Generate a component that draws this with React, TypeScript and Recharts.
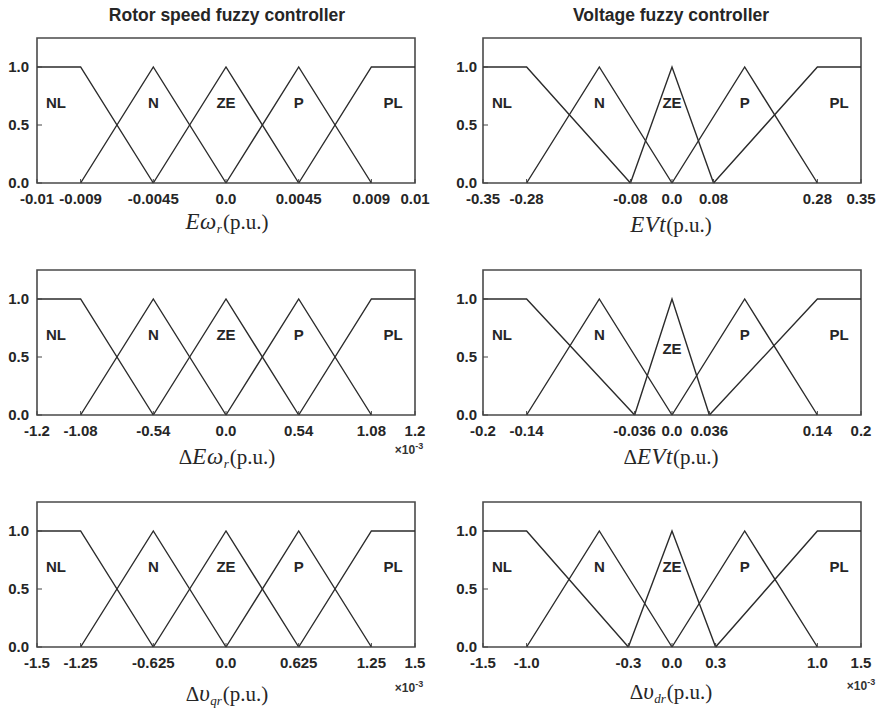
import React from 'react'
import { LineChart, Line, XAxis, YAxis, ReferenceArea, ReferenceDot } from 'recharts'

// membership grades at the breakpoints of each set
const setNames = ['NL', 'N', 'ZE', 'P', 'PL']
const gradeNL = [1, 1, 0]
const gradeTri = [0, 1, 0]
const gradePL = [0, 1, 1]
const yTicks = [0, 0.5, 1]
const yTickLabels = ['0.0', '0.5', '1.0']

// E omega_r (p.u.)
const ewTicks = [-0.01, -0.009, -0.0045, 0, 0.0045, 0.009, 0.01]
const ewTickLabels = ['-0.01', '-0.009', '-0.0045', '0.0', '0.0045', '0.009', '0.01']
const ewNL = [-0.01, -0.009, -0.0045]
const ewN = [-0.009, -0.0045, 0]
const ewZE = [-0.0045, 0, 0.0045]
const ewP = [0, 0.0045, 0.009]
const ewPL = [0.0045, 0.009, 0.01]

// delta E omega_r (p.u.) x10^-3
const dewTicks = [-1.2, -1.08, -0.54, 0, 0.54, 1.08, 1.2]
const dewTickLabels = ['-1.2', '-1.08', '-0.54', '0.0', '0.54', '1.08', '1.2']
const dewNL = [-1.2, -1.08, -0.54]
const dewN = [-1.08, -0.54, 0]
const dewZE = [-0.54, 0, 0.54]
const dewP = [0, 0.54, 1.08]
const dewPL = [0.54, 1.08, 1.2]

// delta v_qr (p.u.) x10^-3
const dvqTicks = [-1.5, -1.25, -0.625, 0, 0.625, 1.25, 1.5]
const dvqTickLabels = ['-1.5', '-1.25', '-0.625', '0.0', '0.625', '1.25', '1.5']
const dvqNL = [-1.5, -1.25, -0.625]
const dvqN = [-1.25, -0.625, 0]
const dvqZE = [-0.625, 0, 0.625]
const dvqP = [0, 0.625, 1.25]
const dvqPL = [0.625, 1.25, 1.5]

// EVt (p.u.)
const evTicks = [-0.35, -0.28, -0.08, 0, 0.08, 0.28, 0.35]
const evTickLabels = ['-0.35', '-0.28', '-0.08', '0.0', '0.08', '0.28', '0.35']
const evNL = [-0.35, -0.28, -0.08]
const evN = [-0.28, -0.14, 0]
const evZE = [-0.08, 0, 0.08]
const evP = [0, 0.14, 0.28]
const evPL = [0.08, 0.28, 0.35]

// delta EVt (p.u.)
const devTicks = [-0.2, -0.14, -0.036, 0, 0.036, 0.14, 0.2]
const devTickLabels = ['-0.2', '-0.14', '-0.036', '0.0', '0.036', '0.14', '0.2']
const devNL = [-0.2, -0.14, -0.036]
const devN = [-0.14, -0.07, 0]
const devZE = [-0.036, 0, 0.036]
const devP = [0, 0.07, 0.14]
const devPL = [0.036, 0.14, 0.2]

// delta v_dr (p.u.) x10^-3
const dvdTicks = [-1.5, -1.0, -0.3, 0, 0.3, 1.0, 1.5]
const dvdTickLabels = ['-1.5', '-1.0', '-0.3', '0.0', '0.3', '1.0', '1.5']
const dvdNL = [-1.5, -1.0, -0.3]
const dvdN = [-1.0, -0.5, 0]
const dvdZE = [-0.3, 0, 0.3]
const dvdP = [0, 0.5, 1.0]
const dvdPL = [0.3, 1.0, 1.5]

// the outer (saturation) segment is drawn compressed, as in the original figure
const GAP = 0.3
const SPAN = 1 + GAP

const makeWarp = (ticks: number[]) => {
    const a = ticks[ticks.length - 2]
    const edge = ticks[ticks.length - 1]
    return (x: number) => {
        const m = Math.abs(x)
        const s = x < 0 ? -1 : 1
        return m <= a ? x / a : s * (1 + ((m - a) / (edge - a)) * GAP)
    }
}

const sans = '"Liberation Sans", Arial, sans-serif'
const serif = '"Liberation Serif", "Times New Roman", serif'
const ink = '#262626'

interface PanelProps {
    left: number
    plotTop: number
    yAxisWidth: number
    marginRight: number
    ticks: number[]
    tickLabels: string[]
    sets: number[][]
    zeY?: number
}

const PLOT_H = 145

const FuzzyPanel = ({ left, plotTop, yAxisWidth, marginRight, ticks, tickLabels, sets, zeY = 0.69 }: PanelProps) => {
    const warp = makeWarp(ticks)
    const warpedTicks = ticks.map(warp)
    const grades = [gradeNL, gradeTri, gradeTri, gradeTri, gradePL]
    const labelX = [-(1 + GAP / 2) - 0.02, warp(sets[1][1]), warp(sets[2][1]), warp(sets[3][1]), 1 + GAP / 2]
    const labelY = [0.69, 0.69, zeY, 0.69, 0.69]

    return (
        <div style={{ position: 'absolute', left, top: plotTop - 5 }}>
            <LineChart width={440} height={5 + PLOT_H + 30} margin={{ top: 5, right: marginRight, left: 0, bottom: 0 }}>
                <XAxis
                    type="number"
                    dataKey="x"
                    domain={[-SPAN, SPAN]}
                    ticks={warpedTicks}
                    interval={0}
                    height={30}
                    axisLine={false}
                    tickLine={{ stroke: '#444' }}
                    tickSize={-4}
                    tickMargin={14}
                    tick={{ fill: ink, fontSize: 15, fontWeight: 700, fontFamily: sans }}
                    tickFormatter={(v: number) => tickLabels[warpedTicks.findIndex((t) => Math.abs(t - v) < 1e-9)] ?? ''}
                />
                <YAxis
                    type="number"
                    domain={[0, 1.25]}
                    ticks={yTicks}
                    interval={0}
                    width={yAxisWidth}
                    axisLine={false}
                    tickLine={{ stroke: '#444' }}
                    tickSize={-5}
                    tickMargin={yAxisWidth === 37 ? 13 : 11}
                    tick={{ fill: ink, fontSize: 15, fontWeight: 700, fontFamily: sans }}
                    tickFormatter={(v: number) => yTickLabels[yTicks.indexOf(v)] ?? ''}
                />
                {sets.map((pts, i) => (
                    <Line
                        key={setNames[i]}
                        data={pts.map((x, j) => ({ x: warp(x), y: grades[i][j] }))}
                        dataKey="y"
                        type="linear"
                        stroke="#2b2b2b"
                        strokeWidth={1.4}
                        dot={false}
                        activeDot={false}
                        isAnimationActive={false}
                    />
                ))}
                <ReferenceArea x1={-SPAN} x2={SPAN} y1={0} y2={1.25} fill="none" stroke="#4a4a4a" strokeWidth={1.6} />
                {setNames.map((name, i) => (
                    <ReferenceDot
                        key={name}
                        x={labelX[i]}
                        y={labelY[i]}
                        r={0}
                        shape={(p: any) => (
                            <text x={p.cx} y={p.cy} textAnchor="middle" dominantBaseline="central" fill={ink} fontSize={15} fontWeight={700} fontFamily={sans}>
                                {name}
                            </text>
                        )}
                    />
                ))}
            </LineChart>
        </div>
    )
}

const AxisTitle = ({ cx, top, children }: { cx: number; top: number; children: React.ReactNode }) => (
    <div style={{ position: 'absolute', left: cx - 110, width: 220, top, textAlign: 'center', fontFamily: serif, fontSize: 21, lineHeight: '22px', color: ink }}>
        {children}
    </div>
)

const Sym = ({ children }: { children: React.ReactNode }) => (
    <i style={{ fontSize: 23, letterSpacing: 0.5 }}>{children}</i>
)

const Sub = ({ children }: { children: React.ReactNode }) => (
    <i style={{ fontSize: 13, position: 'relative', top: 4, marginRight: 1 }}>{children}</i>
)

const Scale = ({ cx, top }: { cx: number; top: number }) => (
    <div style={{ position: 'absolute', left: cx - 30, width: 60, top, textAlign: 'center', fontFamily: sans, fontSize: 12, fontWeight: 700, lineHeight: '14px', color: '#333' }}>
        ×10<span style={{ fontSize: 9, position: 'relative', top: -5 }}>-3</span>
    </div>
)

const ColumnTitle = ({ cx, children }: { cx: number; children: React.ReactNode }) => (
    <div style={{ position: 'absolute', left: cx - 200, width: 400, top: 4, textAlign: 'center', fontFamily: sans, fontSize: 17.5, fontWeight: 700, lineHeight: '22px', color: ink }}>
        {children}
    </div>
)

export default function App() {
    const L = { left: 0, yAxisWidth: 37, marginRight: 25 }
    const R = { left: 440, yAxisWidth: 43, marginRight: 19 }
    const rows = [38, 270, 502]
    const cxL = 227
    const cxR = 671

    return (
        <div style={{ position: 'absolute', left: 0, top: 0, width: 880, height: 712, background: '#fff', overflow: 'hidden' }}>
            <ColumnTitle cx={cxL}>Rotor speed fuzzy controller</ColumnTitle>
            <ColumnTitle cx={cxR}>Voltage fuzzy controller</ColumnTitle>

            <FuzzyPanel {...L} plotTop={rows[0]} ticks={ewTicks} tickLabels={ewTickLabels} sets={[ewNL, ewN, ewZE, ewP, ewPL]} />
            <FuzzyPanel {...L} plotTop={rows[1]} ticks={dewTicks} tickLabels={dewTickLabels} sets={[dewNL, dewN, dewZE, dewP, dewPL]} />
            <FuzzyPanel {...L} plotTop={rows[2]} ticks={dvqTicks} tickLabels={dvqTickLabels} sets={[dvqNL, dvqN, dvqZE, dvqP, dvqPL]} />
            <FuzzyPanel {...R} plotTop={rows[0]} ticks={evTicks} tickLabels={evTickLabels} sets={[evNL, evN, evZE, evP, evPL]} />
            <FuzzyPanel {...R} plotTop={rows[1]} ticks={devTicks} tickLabels={devTickLabels} sets={[devNL, devN, devZE, devP, devPL]} zeY={0.575} />
            <FuzzyPanel {...R} plotTop={rows[2]} ticks={dvdTicks} tickLabels={dvdTickLabels} sets={[dvdNL, dvdN, dvdZE, dvdP, dvdPL]} />

            <AxisTitle cx={cxL} top={211}><Sym>Eω</Sym><Sub>r</Sub>(p.u.)</AxisTitle>
            <AxisTitle cx={cxL} top={446}>Δ<Sym>Eω</Sym><Sub>r</Sub>(p.u.)</AxisTitle>
            <AxisTitle cx={cxL} top={683}>Δ<Sym>υ</Sym><Sub>qr</Sub>(p.u.)</AxisTitle>
            <AxisTitle cx={cxR} top={214}><Sym>EVt</Sym>(p.u.)</AxisTitle>
            <AxisTitle cx={cxR} top={446}>Δ<Sym>EVt</Sym>(p.u.)</AxisTitle>
            <AxisTitle cx={cxR} top={681}>Δ<Sym>υ</Sym><Sub>dr</Sub>(p.u.)</AxisTitle>

            <Scale cx={409} top={443} />
            <Scale cx={409} top={681} />
            <Scale cx={861} top={679} />
        </div>
    )
}
